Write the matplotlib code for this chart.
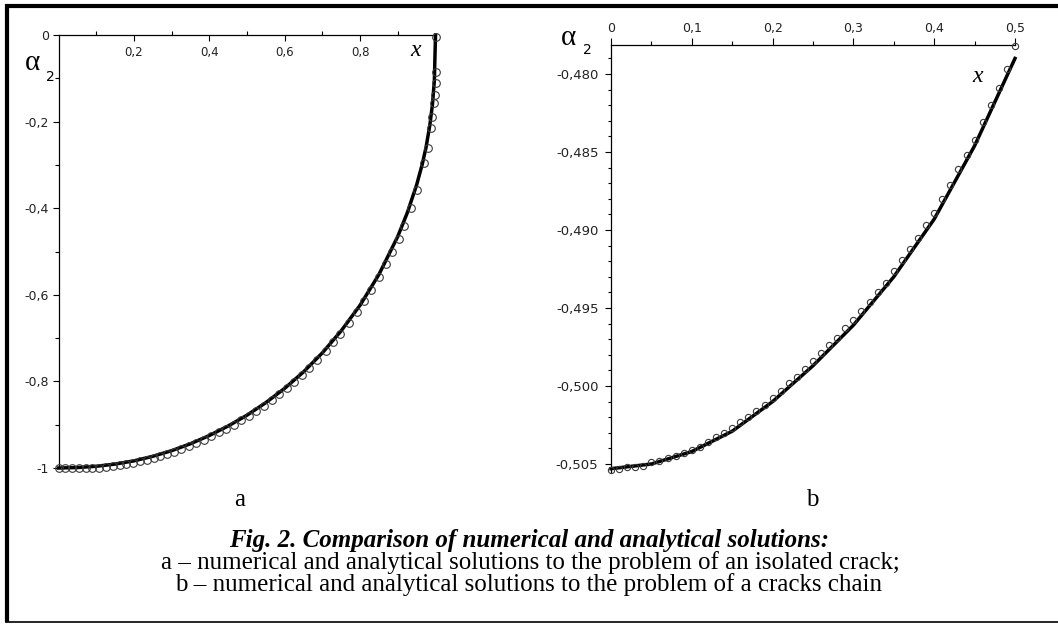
import matplotlib
matplotlib.use('Agg')
import matplotlib.pyplot as plt
from matplotlib.ticker import FixedLocator, FixedFormatter
from matplotlib.lines import Line2D

# --- data ---
# a: isolated crack, analytical curve
xa_line = [0.0, 0.05, 0.1, 0.15, 0.2, 0.25, 0.3, 0.35, 0.4, 0.45, 0.5, 0.55, 0.6, 0.65,
           0.7, 0.75, 0.8, 0.85, 0.9, 0.925, 0.95, 0.965, 0.975, 0.985, 0.992, 0.997, 1.0]
ya_line = [-1.0, -0.999, -0.996, -0.991, -0.9835, -0.973, -0.960, -0.944, -0.925, -0.903,
           -0.878, -0.849, -0.816, -0.778, -0.734, -0.683, -0.624, -0.553, -0.465, -0.411,
           -0.346, -0.298, -0.259, -0.208, -0.160, -0.105, 0.0]
# a: numerical points
xa_num = [0.0, 0.018, 0.036, 0.054, 0.072, 0.09, 0.108, 0.126, 0.144, 0.162, 0.18, 0.198,
          0.216, 0.234, 0.252, 0.27, 0.288, 0.306, 0.325, 0.345, 0.365, 0.385, 0.405, 0.425,
          0.445, 0.465, 0.485, 0.505, 0.525, 0.545, 0.565, 0.585, 0.605, 0.625,
          0.646, 0.664, 0.687, 0.709, 0.728, 0.748, 0.770, 0.791, 0.811, 0.829, 0.850, 0.868,
          0.885, 0.902, 0.917, 0.934, 0.950, 0.970, 0.979, 0.988, 0.992, 0.996, 0.998, 1.0,
          1.0, 1.0]
ya_num = [-1.0, -1.0, -1.0, -1.0, -1.0, -1.0, -0.999, -0.997, -0.995, -0.993, -0.991, -0.988,
          -0.984, -0.981, -0.977, -0.972, -0.967, -0.962, -0.956, -0.950, -0.943, -0.935,
          -0.927, -0.918, -0.909, -0.900, -0.890, -0.879, -0.868, -0.856, -0.843, -0.830,
          -0.816, -0.802, -0.785, -0.770, -0.750, -0.730, -0.710, -0.690, -0.665, -0.640,
          -0.615, -0.590, -0.560, -0.530, -0.500, -0.470, -0.440, -0.400, -0.358, -0.296,
          -0.261, -0.215, -0.189, -0.157, -0.139, -0.111, -0.085, -0.005]

# b: cracks chain, analytical curve
xb_line = [0.0, 0.05, 0.1, 0.15, 0.2, 0.25, 0.3, 0.35, 0.4, 0.45, 0.5]
yb_line = [-0.5053, -0.5050, -0.5042, -0.5029, -0.5010, -0.4987, -0.4961, -0.4930,
           -0.4893, -0.4846, -0.4790]
# b: numerical points
xb_num = [0.0, 0.01, 0.02, 0.03, 0.04, 0.05, 0.06, 0.07, 0.08, 0.09, 0.1, 0.11, 0.12, 0.13,
          0.14, 0.15, 0.16, 0.17, 0.18, 0.19, 0.2, 0.21, 0.22, 0.23, 0.24, 0.25, 0.26, 0.27,
          0.28, 0.29, 0.3, 0.31, 0.32, 0.33, 0.34, 0.35, 0.36, 0.37, 0.38, 0.39, 0.4, 0.41,
          0.42, 0.43, 0.44, 0.45, 0.46, 0.47, 0.48, 0.49, 0.5]
yb_num = [-0.5054, -0.5053, -0.5052, -0.5052, -0.5051, -0.5049, -0.5048, -0.5046, -0.5045,
          -0.5043, -0.5041, -0.5039, -0.5036, -0.5033, -0.5030, -0.5027, -0.5023, -0.5020,
          -0.5016, -0.5012, -0.5008, -0.5003, -0.4998, -0.4994, -0.4989, -0.4984, -0.4979,
          -0.4974, -0.4969, -0.4963, -0.4958, -0.4952, -0.4946, -0.4940, -0.4934, -0.4926,
          -0.4919, -0.4912, -0.4905, -0.4897, -0.4889, -0.4880, -0.4871, -0.4861, -0.4852,
          -0.4842, -0.4831, -0.4820, -0.4809, -0.4797, -0.4782]

# ticks
xa_ticks = [0.2, 0.4, 0.6, 0.8]
xa_labels = ['0,2', '0,4', '0,6', '0,8']
xa_minor = [0.1, 0.3, 0.5, 0.7, 0.9]
ya_ticks = [0.0, -0.2, -0.4, -0.6, -0.8, -1.0]
ya_labels = ['0', '-0,2', '-0,4', '-0,6', '-0,8', '-1']
ya_minor = [-0.1, -0.3, -0.5, -0.7, -0.9]

xb_ticks = [0.0, 0.1, 0.2, 0.3, 0.4, 0.5]
xb_labels = ['0', '0,1', '0,2', '0,3', '0,4', '0,5']
xb_minor = [0.05, 0.15, 0.25, 0.35, 0.45]
yb_ticks = [-0.480, -0.485, -0.490, -0.495, -0.500, -0.505]
yb_labels = ['-0,480', '-0,485', '-0,490', '-0,495', '-0,500', '-0,505']
yb_minor = [-0.479, -0.481, -0.482, -0.483, -0.484, -0.486, -0.487, -0.488, -0.489,
            -0.491, -0.492, -0.493, -0.494, -0.496, -0.497, -0.498, -0.499,
            -0.501, -0.502, -0.503, -0.504]

caption_title = 'Fig. 2. Comparison of numerical and analytical solutions:'
caption_a = 'a \u2013 numerical and analytical solutions to the problem of an isolated crack;'
caption_b = 'b \u2013 numerical and analytical solutions to the problem of a cracks chain'

W, H = 1058, 624
fig = plt.figure(figsize=(W / 100, H / 100), dpi=100)
SERIF = 'Liberation Serif'


def box(x0, x1, ytop, ybot):
    return [x0 / W, 1 - ybot / H, (x1 - x0) / W, (ybot - ytop) / H]


def fx(px):
    return px / W


def fy(py):
    return 1 - py / H


def label_font(labels, size):
    for t in labels:
        t.set_fontfamily('DejaVu Sans')
        t.set_fontsize(size)
        t.set_color('#222222')


# ---- plot a ----
axA = fig.add_axes(box(58.5, 435.5, 35, 468))
axA.set_xlim(0, 1)
axA.set_ylim(-1, 0)
axA.plot(xa_line, ya_line, color='black', lw=2.5, clip_on=False, zorder=3)
axA.plot(xa_num, ya_num, 'o', ms=5.5, mfc='none', mec='#3a3a3a', mew=0.8,
         clip_on=False, zorder=4)
axA.spines['bottom'].set_position(('data', 0))
axA.spines['top'].set_visible(False)
axA.spines['right'].set_visible(False)
for s in ('bottom', 'left'):
    axA.spines[s].set_linewidth(0.9)
axA.xaxis.set_major_locator(FixedLocator(xa_ticks))
axA.xaxis.set_major_formatter(FixedFormatter(xa_labels))
axA.xaxis.set_minor_locator(FixedLocator(xa_minor))
axA.yaxis.set_major_locator(FixedLocator(ya_ticks))
axA.yaxis.set_major_formatter(FixedFormatter(ya_labels))
axA.yaxis.set_minor_locator(FixedLocator(ya_minor))
axA.tick_params(axis='x', which='major', direction='out', length=4, width=0.8, pad=4)
axA.tick_params(axis='x', which='minor', direction='in', length=3, width=0.8)
axA.tick_params(axis='y', which='major', direction='out', length=4, width=0.8, pad=3)
axA.tick_params(axis='y', which='minor', direction='out', length=3, width=0.8)
label_font(axA.get_xticklabels(), 8.5)
label_font(axA.get_yticklabels(), 9)

fig.text(fx(32), fy(63), '\u03b1', family=SERIF, fontsize=21, ha='center', va='center')
fig.text(fx(50), fy(77), '2', family='DejaVu Sans', fontsize=10, ha='center', va='center')
fig.text(fx(416), fy(51), 'x', family=SERIF, style='italic', fontsize=17,
         ha='center', va='center')

# ---- plot b ----
axB = fig.add_axes(box(611, 1015, 45, 471.8))
axB.set_xlim(0, 0.5)
axB.set_ylim(-0.5055, -0.47814)
axB.plot(xb_line, yb_line, color='black', lw=2.5, clip_on=False, zorder=3)
axB.plot(xb_num, yb_num, 'o', ms=4.5, mfc='none', mec='#3a3a3a', mew=0.8,
         clip_on=False, zorder=4)
axB.spines['bottom'].set_visible(False)
axB.spines['right'].set_visible(False)
for s in ('top', 'left'):
    axB.spines[s].set_linewidth(0.9)
axB.xaxis.tick_top()
axB.xaxis.set_major_locator(FixedLocator(xb_ticks))
axB.xaxis.set_major_formatter(FixedFormatter(xb_labels))
axB.xaxis.set_minor_locator(FixedLocator(xb_minor))
axB.yaxis.set_major_locator(FixedLocator(yb_ticks))
axB.yaxis.set_major_formatter(FixedFormatter(yb_labels))
axB.yaxis.set_minor_locator(FixedLocator(yb_minor))
axB.tick_params(axis='x', which='major', direction='out', length=5, width=0.8, pad=2)
axB.tick_params(axis='x', which='minor', direction='out', length=3, width=0.8)
axB.tick_params(axis='y', which='major', direction='out', length=4, width=0.8, pad=5)
axB.tick_params(axis='y', which='minor', direction='out', length=2.5, width=0.8)
label_font(axB.get_xticklabels(), 9)
label_font(axB.get_yticklabels(), 9.5)

fig.text(fx(568), fy(38), '\u03b1', family=SERIF, fontsize=21, ha='center', va='center')
fig.text(fx(587), fy(50), '2', family='DejaVu Sans', fontsize=10, ha='center', va='center')
fig.text(fx(978), fy(76), 'x', family=SERIF, style='italic', fontsize=17,
         ha='center', va='center')

# ---- captions ----
fig.text(fx(240), fy(500), 'a', family=SERIF, fontsize=18, ha='center', va='center')
fig.text(fx(812), fy(500), 'b', family=SERIF, fontsize=18, ha='center', va='center')
fig.text(fx(529), fy(540), caption_title, family=SERIF, fontsize=18, weight='bold',
         style='italic', ha='center', va='center')
fig.text(fx(530), fy(563), caption_a, family=SERIF, fontsize=18, ha='center', va='center')
fig.text(fx(529), fy(585), caption_b, family=SERIF, fontsize=18, ha='center', va='center')

# ---- frame ----
fig.add_artist(Line2D([fx(5), 1], [fy(6), fy(6)], lw=3, color='black',
                      transform=fig.transFigure, solid_capstyle='butt'))
fig.add_artist(Line2D([fx(7), fx(7)], [fy(4), fy(622)], lw=3, color='black',
                      transform=fig.transFigure, solid_capstyle='butt'))
fig.add_artist(Line2D([fx(5), 1], [fy(622), fy(622)], lw=1.2, color='black',
                      transform=fig.transFigure, solid_capstyle='butt'))

fig.savefig('out.png', dpi=100)
